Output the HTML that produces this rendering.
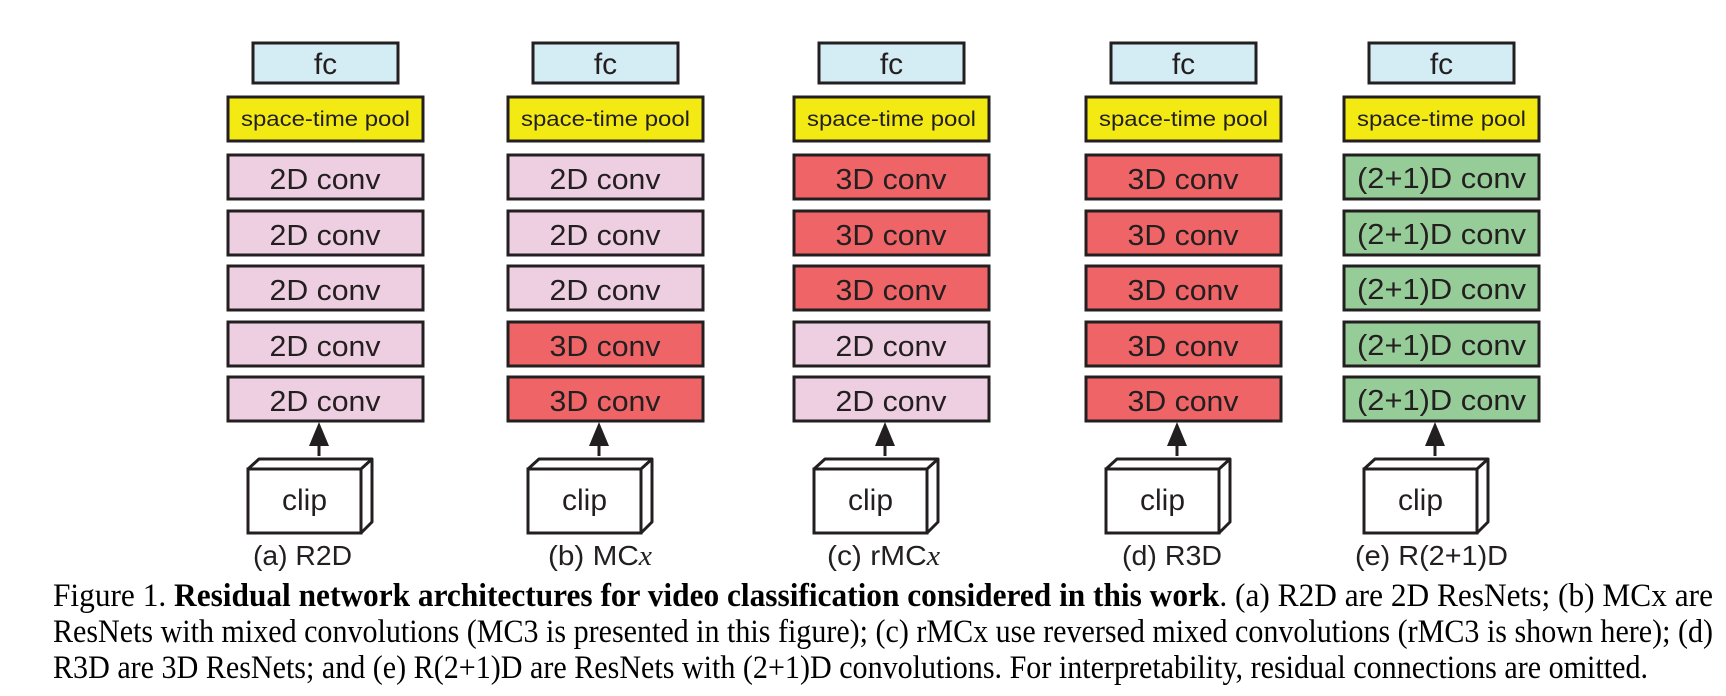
<!DOCTYPE html>
<html><head><meta charset="utf-8"><style>
html,body{margin:0;padding:0;background:#fff;}
svg{display:block;}
.s{font-family:"Liberation Sans",sans-serif;fill:#231f20;}
.t{font-family:"Liberation Serif",serif;fill:#000;font-size:33px;}
</style></head><body>
<svg width="1726" height="696" viewBox="0 0 1726 696" xmlns="http://www.w3.org/2000/svg">
<defs>
<g id="top">
<rect x="25" y="43" width="145" height="40" fill="#d4ecf3" stroke="#231f20" stroke-width="3"/>
<text class="s" x="97.5" y="74" font-size="30" text-anchor="middle">fc</text>
<rect x="0" y="97" width="195" height="44" fill="#f2ea12" stroke="#231f20" stroke-width="3"/>
<text class="s" x="97.5" y="126" font-size="21" text-anchor="middle" textLength="169" lengthAdjust="spacingAndGlyphs">space-time pool</text>
<line x1="91" y1="456" x2="91" y2="440" stroke="#231f20" stroke-width="3"/>
<polygon points="81,446 101,446 91,422" fill="#231f20"/>
<rect x="20" y="469" width="113" height="64" fill="#fff" stroke="#231f20" stroke-width="3"/>
<polyline points="20,469 31,459 144,459 144,522 133,533" fill="none" stroke="#231f20" stroke-width="3" stroke-linejoin="round"/>
<line x1="133" y1="469" x2="144" y2="459" stroke="#231f20" stroke-width="3"/>
<text class="s" x="76.5" y="510" font-size="30" text-anchor="middle">clip</text>
</g>
<g id="p"><rect x="0" y="0" width="195" height="44" fill="#eecfe2" stroke="#231f20" stroke-width="3"/><text class="s" x="97" y="34" font-size="29" text-anchor="middle" textLength="111" lengthAdjust="spacingAndGlyphs">2D conv</text></g>
<g id="r"><rect x="0" y="0" width="195" height="44" fill="#ef6567" stroke="#231f20" stroke-width="3"/><text class="s" x="97" y="34" font-size="29" text-anchor="middle" textLength="111" lengthAdjust="spacingAndGlyphs">3D conv</text></g>
<g id="g"><rect x="0" y="0" width="195" height="44" fill="#96cc98" stroke="#231f20" stroke-width="3"/><text class="s" x="97.5" y="33" font-size="29" text-anchor="middle" textLength="169" lengthAdjust="spacingAndGlyphs">(2+1)D conv</text></g>
</defs>

<g transform="translate(228,0)"><use href="#top"/>
<use href="#p" y="155"/><use href="#p" y="211"/><use href="#p" y="266"/><use href="#p" y="322"/><use href="#p" y="377"/></g>
<g transform="translate(508,0)"><use href="#top"/>
<use href="#p" y="155"/><use href="#p" y="211"/><use href="#p" y="266"/><use href="#r" y="322"/><use href="#r" y="377"/></g>
<g transform="translate(794,0)"><use href="#top"/>
<use href="#r" y="155"/><use href="#r" y="211"/><use href="#r" y="266"/><use href="#p" y="322"/><use href="#p" y="377"/></g>
<g transform="translate(1086,0)"><use href="#top"/>
<use href="#r" y="155"/><use href="#r" y="211"/><use href="#r" y="266"/><use href="#r" y="322"/><use href="#r" y="377"/></g>
<g transform="translate(1344,0)"><use href="#top"/>
<use href="#g" y="155"/><use href="#g" y="211"/><use href="#g" y="266"/><use href="#g" y="322"/><use href="#g" y="377"/></g>

<text class="s" x="253" y="565" font-size="28" textLength="99" lengthAdjust="spacingAndGlyphs">(a) R2D</text>
<text class="s" x="548" y="565" font-size="28" textLength="104" lengthAdjust="spacingAndGlyphs">(b) MC<tspan font-family="Liberation Serif" font-style="italic">x</tspan></text>
<text class="s" x="827" y="565" font-size="28" textLength="113" lengthAdjust="spacingAndGlyphs">(c) rMC<tspan font-family="Liberation Serif" font-style="italic">x</tspan></text>
<text class="s" x="1122" y="565" font-size="28" textLength="100" lengthAdjust="spacingAndGlyphs">(d) R3D</text>
<text class="s" x="1355" y="565" font-size="28" textLength="153" lengthAdjust="spacingAndGlyphs">(e) R(2+1)D</text>

<text class="t" x="53" y="606" textLength="1660" lengthAdjust="spacingAndGlyphs">Figure 1. <tspan font-weight="bold">Residual network architectures for video classification considered in this work</tspan>.  (a) R2D are 2D ResNets;  (b) MCx are</text>
<text class="t" x="53" y="642" textLength="1660" lengthAdjust="spacingAndGlyphs">ResNets with mixed convolutions (MC3 is presented in this figure); (c) rMCx use reversed mixed convolutions (rMC3 is shown here); (d)</text>
<text class="t" x="53" y="678" textLength="1595" lengthAdjust="spacingAndGlyphs">R3D are 3D ResNets; and (e) R(2+1)D are ResNets with (2+1)D convolutions. For interpretability, residual connections are omitted.</text>
</svg>
</body></html>
